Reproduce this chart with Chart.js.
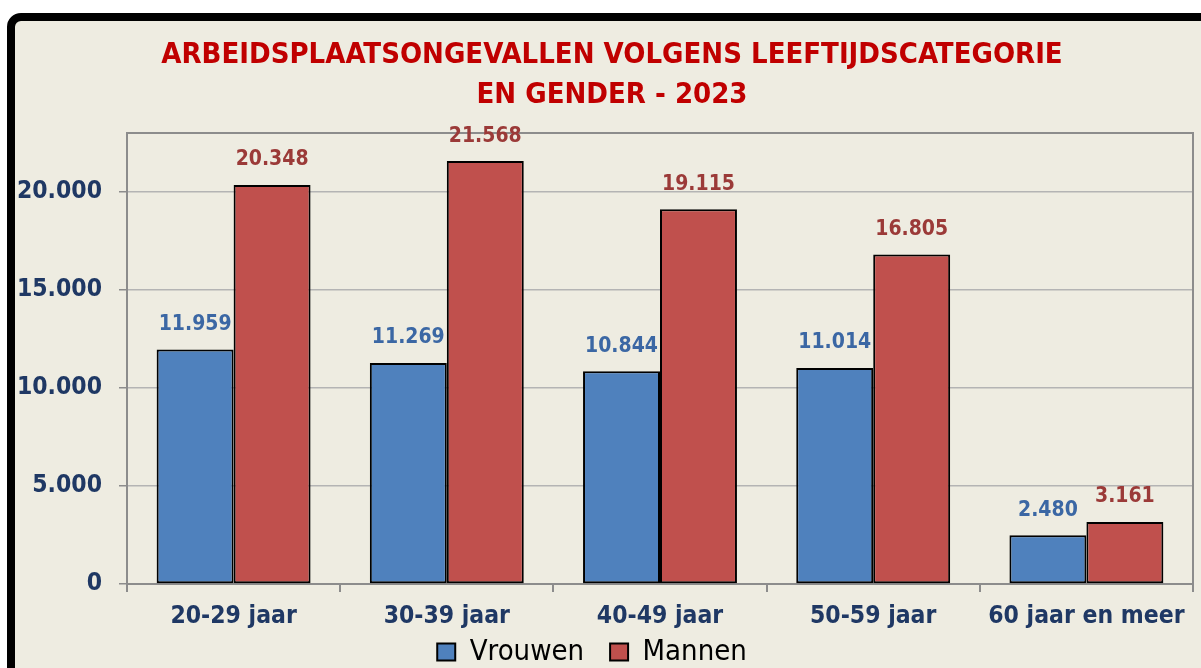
<!DOCTYPE html>
<html><head><meta charset="utf-8">
<script src="https://cdn.jsdelivr.net/npm/chart.js@4.4.1/dist/chart.umd.min.js"></script>
<style>
html,body{margin:0;padding:0;overflow:hidden;background:#fff;width:1201px;height:668px;}
#frame{position:absolute;left:7px;top:13px;width:1300px;height:800px;border:8px solid #000;border-radius:14px;background:#EEECE1;}
#wrap{position:absolute;left:0;top:0;width:1201px;height:699px;}
</style></head><body>
<div id="frame"></div>
<div id="wrap"><canvas id="c" width="1201" height="699"></canvas></div>
<script>
const categories = ['20-29 jaar', '30-39 jaar', '40-49 jaar', '50-59 jaar', '60 jaar en meer'];
const vrouwen = [11959, 11269, 10844, 11014, 2480];
const mannen = [20348, 21568, 19115, 16805, 3161];
const yTicks = [0, 5000, 10000, 15000, 20000];
const yMax = 23000;
const titleLines = ['ARBEIDSPLAATSONGEVALLEN VOLGENS LEEFTIJDSCATEGORIE', 'EN GENDER - 2023'];
const seriesNames = ['Vrouwen', 'Mannen'];

const FONT = "'DejaVu Sans Condensed', 'DejaVu Sans', sans-serif";
const AXIS_COLOR = '#1F3864';
const fmt = v => String(v).replace(/\B(?=(\d{3})+(?!\d))/g, '.');

const valueLabels = {
  id: 'valueLabels',
  afterDatasetsDraw(chart) {
    const ctx = chart.ctx;
    chart.data.datasets.forEach((ds, i) => {
      const meta = chart.getDatasetMeta(i);
      ctx.save();
      ctx.font = 'bold 21px ' + FONT;
      ctx.fillStyle = ds.labelColor;
      ctx.textAlign = 'center';
      ctx.textBaseline = 'middle';
      meta.data.forEach((el, j) => ctx.fillText(fmt(ds.data[j]), el.x, el.y - 25));
      ctx.restore();
    });
  }
};
const areaBorder = {
  id: 'areaBorder',
  beforeDatasetsDraw(chart) {
    const {left, top, right, bottom} = chart.chartArea;
    const ctx = chart.ctx;
    ctx.save();
    ctx.strokeStyle = '#8C8C8C';
    ctx.lineWidth = 2;
    ctx.strokeRect(left, top, right - left, bottom - top);
    ctx.restore();
  }
};
// fine layout tweaks: widen the y label clip, move legend into place
const layoutTweak = {
  id: 'layoutTweak',
  afterLayout(chart) {
    const y = chart.scales.y;
    if (y) y.left = 0;
    const l = chart.legend;
    if (l) { l.left -= 20; l.right -= 20; l.top -= 22.5; l.bottom -= 22.5; }
  }
};

Chart.defaults.font.family = FONT;

new Chart(document.getElementById('c'), {
  type: 'bar',
  data: {
    labels: categories,
    datasets: [
      { label: seriesNames[0], data: vrouwen, backgroundColor: '#4F81BD', borderColor: '#000', borderWidth: 2,
        borderSkipped: false, labelColor: '#3B67A4', categoryPercentage: 0.722, barPercentage: 1 },
      { label: seriesNames[1], data: mannen, backgroundColor: '#C0504D', borderColor: '#000', borderWidth: 2,
        borderSkipped: false, labelColor: '#9B3A38', categoryPercentage: 0.722, barPercentage: 1 }
    ]
  },
  options: {
    responsive: false,
    animation: false,
    events: [],
    layout: { padding: { left: 31, right: 8, top: 0, bottom: 0 } },
    plugins: {
      title: {
        display: true, text: titleLines, color: '#C00000',
        font: { family: FONT, size: 29, weight: 'bold', lineHeight: 40 / 29 },
        padding: { top: 35, bottom: 18 }
      },
      legend: {
        position: 'bottom',
        labels: { color: '#000', font: { family: FONT, size: 29, weight: 'normal' }, boxWidth: 18, boxHeight: 17, padding: 26 }
      },
      tooltip: { enabled: false }
    },
    scales: {
      x: {
        offset: true,
        grid: { offset: true, drawOnChartArea: false, drawTicks: true, tickLength: 8, color: '#8C8C8C', lineWidth: 2 },
        border: { display: true, color: '#8C8C8C', width: 2 },
        ticks: { color: AXIS_COLOR, font: { family: FONT, size: 24.5, weight: 'bold' }, padding: 10, maxRotation: 0, autoSkip: false },
        afterFit(s) { s.height = 50; }
      },
      y: {
        min: 0, max: yMax,
        afterBuildTicks(s) { s.ticks = yTicks.map(v => ({ value: v })); },
        grid: { color: '#B4B4B4', lineWidth: 1.5, tickLength: 8, drawTicks: true, tickColor: '#8C8C8C' },
        border: { display: true, color: '#8C8C8C', width: 2 },
        ticks: { color: AXIS_COLOR, font: { family: FONT, size: 24.5, weight: 'bold' }, padding: 17, callback: v => fmt(v) },
        afterFit(s) { s.width = 96; }
      }
    }
  },
  plugins: [valueLabels, areaBorder, layoutTweak]
});
</script>
</body></html>
